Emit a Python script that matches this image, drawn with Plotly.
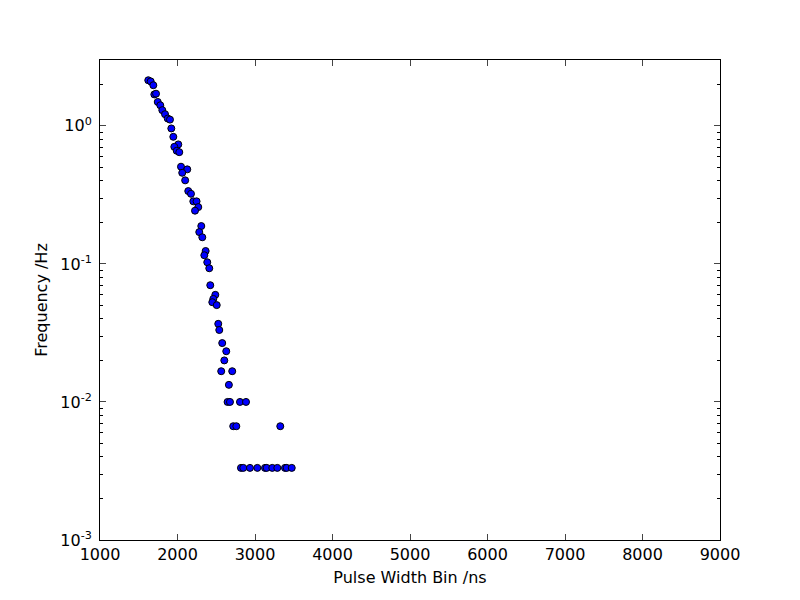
import plotly.graph_objects as go

pulse_width_ns = [1623, 1654, 1688, 1701, 1723, 1745, 1778, 1804, 1839, 1874,
                  1903, 1920, 1946, 2010, 1959, 1990, 2023, 2045, 2126, 2061,
                  2099, 2139, 2174, 2204, 2246, 2268, 2226, 2307, 2281, 2320,
                  2363, 2346, 2384, 2410, 2423, 2488, 2462, 2449, 2506, 2526,
                  2539, 2577, 2629, 2604, 2564, 2706, 2663, 2646, 2677, 2806,
                  2884, 2719, 2759, 3326, 2819, 2849, 2935, 3030, 3129, 3151,
                  3223, 3288, 3387, 3409, 3474]
frequency_hz = [2.14, 2.10, 1.97, 1.69, 1.71, 1.49, 1.41, 1.30, 1.215, 1.13,
                1.11, 0.958, 0.833, 0.734, 0.705, 0.66, 0.645, 0.506, 0.484, 0.457,
                0.403, 0.337, 0.322, 0.284, 0.284, 0.258, 0.243, 0.188, 0.170, 0.156,
                0.124, 0.1156, 0.1028, 0.093, 0.0701, 0.0597, 0.0558, 0.0528, 0.0503, 0.0368,
                0.0332, 0.0267, 0.0233, 0.0200, 0.0167, 0.0167, 0.0133, 0.0100, 0.0100, 0.0100,
                0.0100, 0.00667, 0.00667, 0.00667, 0.00333, 0.00333, 0.00333, 0.00333, 0.00333, 0.00333,
                0.00333, 0.00333, 0.00333, 0.00333, 0.00333]

x_ticks = [1000, 2000, 3000, 4000, 5000, 6000, 7000, 8000, 9000]
y_ticks = [1e-3, 1e-2, 1e-1, 1]
y_tick_text = ["10<sup>-3</sup>", "10<sup>-2</sup>", "10<sup>-1</sup>", "10<sup>0</sup>"]
y_minor = [m * 10 ** e for e in (-3, -2, -1, 0) for m in range(2, 10) if m * 10 ** e <= 3]

fig = go.Figure(go.Scatter(
    x=pulse_width_ns, y=frequency_hz, mode="markers",
    marker=dict(color="#0000ff", size=7, line=dict(color="black", width=1)),
))

# page body adds an ~8px offset, so margins are compensated
fig.update_layout(
    width=800, height=600,
    margin=dict(l=92, r=88, t=52, b=68),
    paper_bgcolor="white", plot_bgcolor="white",
    showlegend=False,
    font=dict(family="DejaVu Sans", size=16, color="black"),
)
fig.update_xaxes(
    range=[1000, 9000], tickvals=x_ticks, ticks="inside", ticklen=6,
    showline=True, linecolor="black", linewidth=1, mirror="allticks",
    showgrid=False, zeroline=False, automargin=False,
    title=dict(text="Pulse Width Bin /ns", font=dict(size=16), standoff=8),
)
fig.update_yaxes(
    type="log", range=[-3, 0.4771], tickvals=y_ticks, ticktext=y_tick_text,
    ticks="inside", ticklen=6, ticklabelstandoff=4,
    minor=dict(tickvals=y_minor, ticks="inside", ticklen=3, tickcolor="black"),
    showline=True, linecolor="black", linewidth=1, mirror="allticks",
    showgrid=False, zeroline=False, automargin=False,
    title=dict(text="Frequency /Hz", font=dict(size=16), standoff=8),
)

fig.write_html("out.html")
